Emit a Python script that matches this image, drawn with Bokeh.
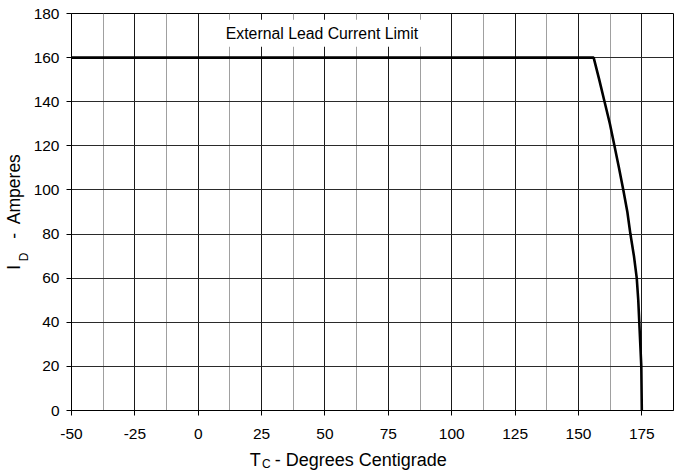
from bokeh.plotting import figure
from bokeh.models import FixedTicker, Label, Range1d, LinearAxis
from bokeh.embed import file_html
from bokeh.resources import INLINE

# ---- data ----
case_temp = [-50, 156.0, 158.2, 160.3, 162.4, 164.2, 166.0, 167.7, 169.3, 170.5,
             171.9, 173.0, 173.6, 174.0, 174.4, 174.8, 175.0]
drain_current = [160, 160, 150, 140, 130, 120, 110, 100, 90, 80,
                 70, 60, 50, 40, 30, 20, 0]
x_major_ticks = [-50, -25, 0, 25, 50, 75, 100, 125, 150, 175]
x_minor_ticks = [-37.5, -12.5, 12.5, 37.5, 62.5, 87.5, 112.5, 137.5, 162.5, 187.5]
y_ticks = [0, 20, 40, 60, 80, 100, 120, 140, 160, 180]
x_start, x_end = -50, 187.5
y_start, y_end = 0, 180
annotation_text = "External Lead Current Limit"
annotation_at = (48.8, 171)
x_label_main, x_label_sub = "T", "C"
x_label_rest = "Degrees Centigrade"
y_label_main, y_label_sub = "I", "D"
y_label_rest = "Amperes"
FONT = "Liberation Sans"

EM, EN, THIN = "\u2003", "\u2002", "\u2009"

# ---- layout ----
W, H = 686, 470
ML, MR, MT, MB = 70, 13, 13, 60

p = figure(width=W, height=H,
           x_range=Range1d(x_start, x_end), y_range=Range1d(y_start, y_end),
           output_backend="svg", toolbar_location=None,
           min_border_left=ML, min_border_right=MR,
           min_border_top=MT, min_border_bottom=MB,
           background_fill_color="white", border_fill_color="white")

p.outline_line_color = "black"
p.outline_line_width = 1

xt = FixedTicker(ticks=x_major_ticks, minor_ticks=x_minor_ticks)
yt = FixedTicker(ticks=y_ticks)
xax = p.xaxis[0]
yax = p.yaxis[0]
xax.ticker = xt
yax.ticker = yt
p.xgrid.ticker = xt
p.ygrid.ticker = yt
# plain hyphen-minus for negative tick labels, as in the reference
xax.major_label_overrides = {t: str(t) for t in x_major_ticks}

p.xgrid.grid_line_color = "#1a1a1a"
p.xgrid.grid_line_width = 1
p.xgrid.minor_grid_line_color = "#a0a0a0"
p.xgrid.minor_grid_line_width = 1
p.ygrid.grid_line_color = "#2a2a2a"
p.ygrid.grid_line_width = 1

for ax in (xax, yax):
    ax.axis_line_color = "black"
    ax.axis_line_width = 1
    ax.major_tick_line_color = "black"
    ax.major_tick_out = 5
    ax.major_tick_in = 0
    ax.minor_tick_line_color = None
    ax.major_label_text_font = FONT
    ax.major_label_text_font_size = "15.5px"
    ax.major_label_text_color = "black"
    ax.axis_label_text_font = FONT
    ax.axis_label_text_font_style = "normal"
    ax.axis_label_text_color = "black"
xax.major_label_standoff = 13
yax.major_label_standoff = 7

# y axis: subscript on the tick axis, main text on an outer label-only axis
yax.axis_label = y_label_sub + EM * 7 + EN
yax.axis_label_text_font_size = "12px"
yax.axis_label_standoff = 0


def label_axis(text, size, standoff):
    return LinearAxis(ticker=FixedTicker(ticks=[]), axis_line_color=None,
                      major_tick_line_color=None, minor_tick_line_color=None,
                      major_tick_out=0, major_tick_in=0, minor_tick_out=0,
                      major_label_standoff=0, major_label_text_font_size="1px",
                      axis_label=text, axis_label_text_font=FONT,
                      axis_label_text_font_size=size, axis_label_text_font_style="normal",
                      axis_label_text_color="black", axis_label_standoff=standoff)


p.add_layout(label_axis(y_label_main + EM + EN + "-" + EN + y_label_rest, "17.5px", -10), "left")

# x axis title: label-only axes whose labels are pushed down to the bottom edge
p.add_layout(label_axis(x_label_main + EN + " - " + x_label_rest + EM + EM + EN + THIN, "18px", -456), "above")
p.add_layout(label_axis(x_label_sub + EM * 17 + EN + THIN, "12px", -457), "above")

p.line(case_temp, drain_current, line_color="black", line_width=2.6)

p.add_layout(Label(x=annotation_at[0], y=annotation_at[1], text=annotation_text,
                   text_align="center", text_baseline="middle",
                   text_font=FONT, text_font_size="15.8px", text_color="black",
                   background_fill_color="white", padding=5))

open("out.html", "w").write(file_html(p, INLINE))
